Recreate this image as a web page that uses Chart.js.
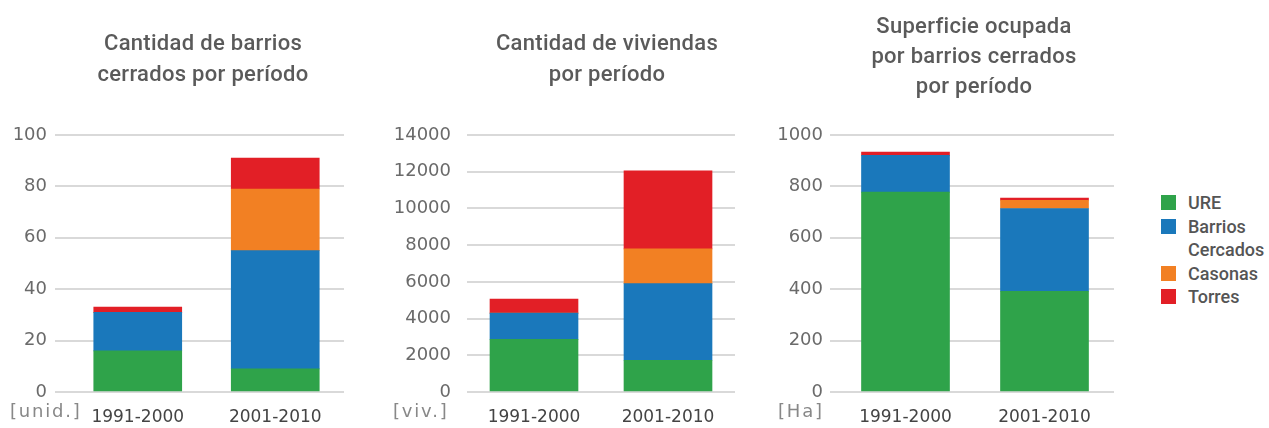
<!DOCTYPE html>
<html lang="es">
<head>
<meta charset="utf-8">
<title>Barrios cerrados por período</title>
<script src="https://cdn.jsdelivr.net/npm/chart.js@4.4.1/dist/chart.umd.min.js"></script>
<style>
  html, body { margin: 0; padding: 0; background: #fff; }
  #page { position: relative; width: 1269px; height: 428px; overflow: hidden; }
  canvas { position: absolute; top: 0; }
  #legend { position: absolute; left: 1161px; top: 191px; font: 500 18px Roboto, sans-serif; color: #555; }
  .item { display: flex; align-items: flex-start; line-height: 23.5px; }
  .swatch { width: 15px; height: 15px; margin-top: 4px; margin-right: 12px; flex: none; }
  .text { width: 82px; }
</style>
</head>
<body>
<div id="page">
  <canvas id="chartBarrios" width="360" height="428" style="left:0px"></canvas>
  <canvas id="chartViviendas" width="380" height="428" style="left:380px"></canvas>
  <canvas id="chartSuperficie" width="370" height="428" style="left:760px"></canvas>
  <div id="legend"></div>
</div>
<script>
var periods = ['1991-2000', '2001-2010'];
var seriesNames = ['URE', 'Barrios Cercados', 'Casonas', 'Torres'];
var seriesColors = ['#2fa34a', '#1a78bb', '#f28023', '#e21f26'];

// cantidad de barrios cerrados [unid.]
var barriosURE = [16, 9];
var barriosCercados = [15, 46];
var barriosCasonas = [0, 24];
var barriosTorres = [2, 12];

// cantidad de viviendas [viv.]
var viviendasURE = [2870, 1730];
var viviendasCercados = [1430, 4170];
var viviendasCasonas = [0, 1900];
var viviendasTorres = [760, 4250];

// superficie ocupada [Ha]
var superficieURE = [778, 392];
var superficieCercados = [143, 322];
var superficieCasonas = [0, 32];
var superficieTorres = [13, 9];

// titles and unit text drawn straight onto each panel
var panelText = {
    id: 'panelText',
    afterDraw: function(chart, args, opts) {
        var ctx = chart.ctx;
        ctx.save();
        ctx.fillStyle = '#5a5a5a';
        ctx.font = '500 22px Roboto';
        ctx.textAlign = 'center';
        ctx.textBaseline = 'middle';
        ctx.letterSpacing = '0.3px';
        opts.title.forEach(function(line, i) {
            ctx.fillText(line, opts.titleX, opts.titleY + i * opts.titleStep);
        });
        ctx.textAlign = 'left';
        ctx.font = '18px "DejaVu Sans"';
        ctx.fillStyle = '#888';
        ctx.letterSpacing = '1.8px';
        ctx.fillText(opts.unit, opts.unitX, 412);
        ctx.restore();
    }
};

function makeChart(id, p) {
    var datasets = seriesNames.map(function(name, i) {
        return {
            label: name,
            data: p.series[i],
            backgroundColor: seriesColors[i],
            borderWidth: 0,
            barThickness: 88
        };
    });
    return new Chart(document.getElementById(id), {
        type: 'bar',
        data: { labels: periods, datasets: datasets },
        plugins: [panelText],
        options: {
            responsive: false,
            animation: false,
            layout: { padding: { top: 135, right: p.padRight, bottom: 0, left: 0 } },
            scales: {
                x: {
                    stacked: true,
                    grid: { display: false, drawTicks: false },
                    border: { display: false },
                    ticks: { color: '#444', font: { family: 'DejaVu Sans', size: 17 }, padding: 15, maxRotation: 0 },
                    afterFit: function(s) { s.height = 36; }
                },
                y: {
                    stacked: true,
                    min: 0,
                    max: p.max,
                    ticks: {
                        stepSize: p.step,
                        color: '#6a6a6a',
                        font: { family: 'DejaVu Sans', size: 18 },
                        padding: p.tickPad,
                        callback: function(value) { return String(value); }
                    },
                    grid: {
                        color: '#d9d9d9',
                        lineWidth: 2,
                        drawTicks: p.tickLen > 0,
                        tickLength: p.tickLen,
                        tickColor: '#d9d9d9'
                    },
                    border: { display: false },
                    afterFit: function(s) { s.width = p.areaLeft; }
                }
            },
            plugins: {
                legend: { display: false },
                tooltip: { enabled: false },
                panelText: p.text
            }
        }
    });
}

makeChart('chartBarrios', {
    series: [barriosURE, barriosCercados, barriosCasonas, barriosTorres],
    max: 100, step: 20,
    areaLeft: 69, padRight: 16, tickLen: 14, tickPad: 8,
    text: { title: ['Cantidad de barrios', 'cerrados por período'], titleX: 203, titleY: 44, titleStep: 31, unit: '[unid.]', unitX: 10 }
});

makeChart('chartViviendas', {
    series: [viviendasURE, viviendasCercados, viviendasCasonas, viviendasTorres],
    max: 14000, step: 2000,
    areaLeft: 87, padRight: 25, tickLen: 0, tickPad: 16,
    text: { title: ['Cantidad de viviendas', 'por período'], titleX: 227, titleY: 44, titleStep: 31, unit: '[viv.]', unitX: 13 }
});

makeChart('chartSuperficie', {
    series: [superficieURE, superficieCercados, superficieCasonas, superficieTorres],
    max: 1000, step: 200,
    areaLeft: 76, padRight: 16, tickLen: 6, tickPad: 7,
    text: { title: ['Superficie ocupada', 'por barrios cerrados', 'por período'], titleX: 214, titleY: 27, titleStep: 30, unit: '[Ha]', unitX: 18 }
});

// legend beside the last panel
var legend = document.getElementById('legend');
seriesNames.forEach(function(name, i) {
    var item = document.createElement('div');
    item.className = 'item';
    var sw = document.createElement('div');
    sw.className = 'swatch';
    sw.style.background = seriesColors[i];
    var txt = document.createElement('span');
    txt.className = 'text';
    txt.textContent = name;
    item.appendChild(sw);
    item.appendChild(txt);
    legend.appendChild(item);
});
</script>
</body>
</html>
